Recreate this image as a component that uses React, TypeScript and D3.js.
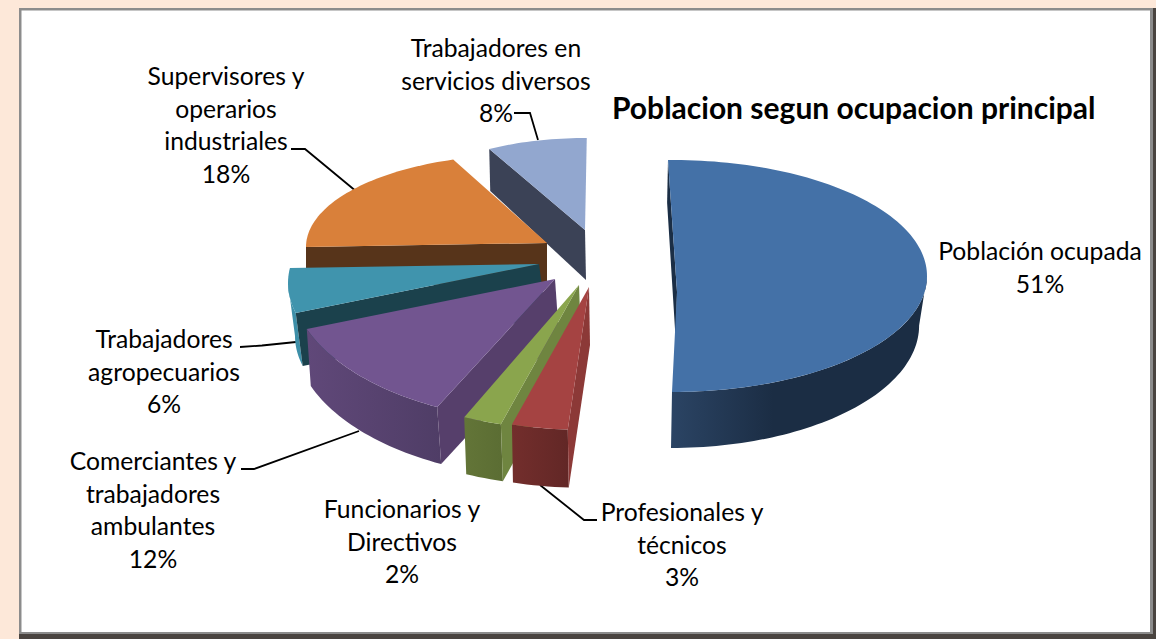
import React from "react";
import * as d3 from "d3";

// ---- data ----
const categories = [
  "Población ocupada",
  "Profesionales y técnicos",
  "Funcionarios y Directivos",
  "Comerciantes y trabajadores ambulantes",
  "Trabajadores agropecuarios",
  "Supervisores y operarios industriales",
  "Trabajadores en servicios diversos",
];
const shares = [51, 3, 2, 12, 6, 18, 8];
const titleText = "Poblacion segun ocupacion principal";

// ---- styles ----
const topColors = ["#4471a7", "#a54342", "#8aa54d", "#725590", "#4094ad", "#d9803a", "#92a7cf"];
const sideColors = ["#1b2e45", "#8c3937", "#6f8540", "#563f6b", "#1b414c", "#57341a", "#3b4256"];
const wallFrom = ["#2b4464", "#732e2c", "#637538", "#604879", "#3d8fa8", "#57341a", "#3b4256"];
const wallTo = ["#1b2d44", "#622726", "#5b6d33", "#4f3d66", "#3d8fa8", "#57341a", "#3b4256"];

// ---- perspective layout of every exploded slice ----
type Geo = {
  apex: [number, number]; centre: [number, number]; rx: number; ry: number;
  trim: [number, number]; dx: number; dy: number; sx: number; sy: number;
};
const geometry: Geo[] = [
  { apex: [677, 292], centre: [672, 276], rx: 255, ry: 116, trim: [-0.9, -3.6], dx: -1, dy: 49.5, sx: 0.973, sy: 1.056 },
  { apex: [589, 287], centre: [589, 287], rx: 283, ry: 143, trim: [0.7, 1.4], dx: 1, dy: 58, sx: 1, sy: 1 },
  { apex: [579, 285], centre: [579, 285], rx: 280, ry: 145, trim: [1.8, 2.6], dx: 2, dy: 57, sx: 1, sy: 1 },
  { apex: [555, 279], centre: [555, 279], rx: 265, ry: 143, trim: [4.8, 4.7], dx: 4, dy: 57, sx: 1, sy: 1 },
  { apex: [539, 264], centre: [500, 283], rx: 212, ry: 112, trim: [9.7, 11.3], dx: 7, dy: 53, sx: 1, sy: 1 },
  { apex: [547, 243], centre: [520, 247], rx: 214, ry: 92, trim: [3.6, 10.6], dx: 0, dy: 40, sx: 1, sy: 1 },
  { apex: [585, 230], centre: [585, 230], rx: 202, ry: 92, trim: [0.5, 0.5], dx: 1, dy: 50, sx: 1, sy: 1.1 },
];
const paintOrder = [6, 5, 4, 3, 2, 1, 0];

const labelLines = [
  ["Población ocupada"],
  ["Profesionales y", "técnicos"],
  ["Funcionarios y", "Directivos"],
  ["Comerciantes y", "trabajadores", "ambulantes"],
  ["Trabajadores", "agropecuarios"],
  ["Supervisores y", "operarios", "industriales"],
  ["Trabajadores en", "servicios diversos"],
];
const labelAnchor: [number, number][] = [
  [1040, 260], [682, 521], [402, 518], [153, 470], [164, 348], [226, 85], [496, 57],
];
const labelGap = 32.6;
const leaders: ([number, number][] | null)[] = [
  null,
  [[540, 485], [584, 520], [597, 520]],
  null,
  [[241, 469], [254, 469], [359, 431]],
  [[240, 347], [262, 345.5], [296, 342]],
  [[291, 149], [305, 149], [357, 192]],
  [[514, 113], [530, 113], [538, 140]],
];

const font = "Lato, Carlito, Calibri, sans-serif";
const polyline = d3.line<[number, number]>().x((d) => d[0]).y((d) => d[1]);
const pieLayout = d3.pie<number>().sort(null).startAngle(0).endAngle(2 * Math.PI);

function point(g: Geo, deg: number): [number, number] {
  const t = (deg * Math.PI) / 180;
  return [g.centre[0] + g.rx * Math.sin(t), g.centre[1] - g.ry * Math.cos(t)];
}
function lower(g: Geo, p: [number, number]): [number, number] {
  return [
    g.centre[0] + g.dx + g.sx * (p[0] - g.centre[0]),
    g.centre[1] + g.dy + g.sy * (p[1] - g.centre[1]),
  ];
}
function sweep(from: number, to: number): number[] {
  const n = Math.max(2, Math.ceil(Math.abs(to - from) / 1.5));
  const s = d3.scaleLinear().domain([0, n]).range([from, to]);
  return d3.range(n + 1).map((i) => s(i));
}

export default function App() {
  const arcs = pieLayout(shares);
  const slices = arcs.map((a, i) => {
    const g = geometry[i];
    const start = (a.startAngle * 180) / Math.PI + g.trim[0];
    const end = (a.endAngle * 180) / Math.PI + g.trim[1];
    const rim = sweep(start, end).map((d) => point(g, d));
    const top = polyline([g.apex, ...rim])! + "Z";
    const s0 = point(g, start);
    const side = polyline([g.apex, s0, lower(g, s0), lower(g, g.apex)])! + "Z";
    const wa = Math.max(start, 90);
    const wb = Math.min(end, 270);
    let wall: string | null = null;
    if (wb > wa) {
      const up = sweep(wa, wb).map((d) => point(g, d));
      const dn = up.map((p) => lower(g, p)).reverse();
      wall = polyline([...up, ...dn])! + "Z";
    }
    return { i, top, side, wall };
  });

  return (
    <svg width={1156} height={639} style={{ position: "absolute", left: 0, top: 0, display: "block" }}>
      <defs>
        {shares.map((_, i) => (
          <linearGradient key={i} id={`wall${i}`} x1="0" x2="1" y1="0" y2="0">
            <stop offset="0" stopColor={wallFrom[i]} />
            <stop offset={i === 0 ? "0.4" : "1"} stopColor={wallTo[i]} />
          </linearGradient>
        ))}
      </defs>
      <rect width={1156} height={639} fill="#fde8d9" />
      <rect x={19} y={8} width={1137} height={631} fill="#4a4440" />
      <rect x={19} y={8} width={1134} height={626} fill="#8c8c8c" />
      <rect x={21.5} y={10.5} width={1128.5} height={621.5} fill="#ffffff" />

      {leaders.map((l, i) =>
        l ? <path key={i} d={polyline(l)!} fill="none" stroke="#000" strokeWidth={1.8} /> : null
      )}

      {paintOrder.map((k) => {
        const s = slices[k];
        return (
          <g key={k}>
            {s.wall && <path d={s.wall} fill={`url(#wall${k})`} />}
            <path d={s.side} fill={sideColors[k]} />
            <path d={s.top} fill={topColors[k]} />
          </g>
        );
      })}

      {categories.map((c, i) => (
        <text key={c} fontFamily={font} fontSize={24.7} fill="#000" textAnchor="middle">
          {[...labelLines[i], `${shares[i]}%`].map((line, j) => (
            <tspan key={j} x={labelAnchor[i][0]} y={labelAnchor[i][1] + j * labelGap}>{line}</tspan>
          ))}
        </text>
      ))}
      <text x={612} y={119} fontFamily={font} fontSize={30} fontWeight={700} fill="#000">{titleText}</text>
    </svg>
  );
}
